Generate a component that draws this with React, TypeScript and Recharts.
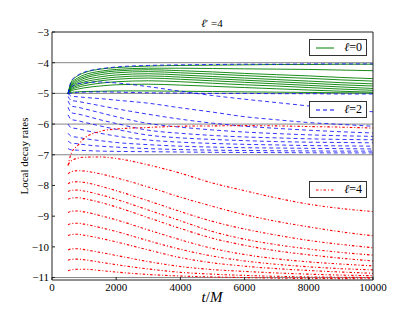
import React from 'react';
import { LineChart, Line, XAxis, YAxis, ReferenceLine } from 'recharts';

const times = [500, 600, 800, 1000, 1500, 2000, 3000, 4000, 5000, 6000, 7000, 8000, 9000, 10000];

const xTicks = [0, 2000, 4000, 6000, 8000, 10000];
const yTicks = [-11, -10, -9, -8, -7, -6, -5, -4, -3];
const refLevels = [-4, -5, -6, -7, -11];

// l = 0 (green, solid)
const green1 = [-5.0, -4.63, -4.43, -4.33, -4.21, -4.16, -4.11, -4.09, -4.08, -4.07, -4.06, -4.06, -4.05, -4.05];
const green2 = [-5.0, -4.68, -4.5, -4.4, -4.28, -4.22, -4.18, -4.18, -4.19, -4.2, -4.21, -4.22, -4.24, -4.26];
const green3 = [-5.0, -4.72, -4.55, -4.46, -4.33, -4.27, -4.23, -4.26, -4.3, -4.35, -4.39, -4.43, -4.48, -4.52];
const green4 = [-5.0, -4.76, -4.6, -4.51, -4.39, -4.33, -4.29, -4.33, -4.37, -4.42, -4.47, -4.51, -4.56, -4.6];
const green5 = [-5.0, -4.8, -4.65, -4.57, -4.46, -4.4, -4.36, -4.4, -4.45, -4.5, -4.55, -4.6, -4.65, -4.69];
const green6 = [-5.0, -4.83, -4.7, -4.63, -4.53, -4.47, -4.43, -4.47, -4.52, -4.57, -4.62, -4.67, -4.72, -4.76];
const green7 = [-5.0, -4.86, -4.75, -4.69, -4.59, -4.54, -4.5, -4.54, -4.59, -4.64, -4.69, -4.74, -4.79, -4.84];
const green8 = [-5.0, -4.89, -4.8, -4.75, -4.67, -4.62, -4.59, -4.62, -4.67, -4.72, -4.76, -4.81, -4.86, -4.9];
const green9 = [-5.0, -4.92, -4.86, -4.82, -4.76, -4.72, -4.7, -4.73, -4.77, -4.81, -4.85, -4.89, -4.93, -4.96];
const green10 = [-5.0, -4.97, -4.95, -4.94, -4.93, -4.92, -4.92, -4.93, -4.94, -4.95, -4.96, -4.97, -4.98, -4.99];

// l = 2 (blue, dashed)
const blue1 = [-5.0, -4.6, -4.41, -4.31, -4.2, -4.14, -4.09, -4.07, -4.06, -4.05, -4.05, -4.04, -4.04, -4.04];
const blue2 = [-5.0, -4.8, -4.69, -4.66, -4.63, -4.66, -4.78, -4.93, -5.07, -5.19, -5.3, -5.41, -5.51, -5.6];
const blue3 = [-5.02, -4.99, -4.97, -4.96, -4.95, -4.96, -4.98, -4.99, -5.0, -5.0, -5.01, -5.01, -5.02, -5.02];
const blue4 = [-5.0, -5.09, -5.11, -5.13, -5.17, -5.22, -5.32, -5.47, -5.61, -5.76, -5.86, -5.95, -6.01, -6.07];
const blue5 = [-5.1, -5.23, -5.26, -5.3, -5.4, -5.5, -5.68, -5.84, -5.97, -6.07, -6.14, -6.2, -6.25, -6.29];
const blue6 = [-5.25, -5.41, -5.45, -5.5, -5.63, -5.76, -5.98, -6.1, -6.19, -6.26, -6.31, -6.35, -6.38, -6.4];
const blue7 = [-5.45, -5.63, -5.67, -5.72, -5.86, -5.98, -6.2, -6.3, -6.37, -6.42, -6.45, -6.48, -6.5, -6.51];
const blue8 = [-5.7, -5.85, -5.89, -5.94, -6.06, -6.17, -6.36, -6.45, -6.5, -6.54, -6.57, -6.59, -6.6, -6.61];
const blue9 = [-6.0, -6.12, -6.15, -6.2, -6.3, -6.39, -6.52, -6.59, -6.63, -6.66, -6.68, -6.7, -6.71, -6.72];
const blue10 = [-6.3, -6.4, -6.43, -6.47, -6.54, -6.6, -6.67, -6.72, -6.75, -6.77, -6.78, -6.79, -6.8, -6.81];
const blue11 = [-6.55, -6.62, -6.64, -6.67, -6.72, -6.75, -6.8, -6.83, -6.85, -6.86, -6.87, -6.875, -6.88, -6.88];
const blue12 = [-6.8, -6.84, -6.85, -6.86, -6.88, -6.89, -6.9, -6.91, -6.92, -6.925, -6.93, -6.935, -6.94, -6.94];

// l = 4 (red, dash-dot)
const red1 = [-7.35, -6.95, -6.7, -6.47, -6.24, -6.16, -6.11, -6.07, -6.06, -6.05, -6.06, -6.08, -6.1, -6.13];
const red2 = [-7.32, -7.2, -7.11, -7.08, -7.07, -7.12, -7.33, -7.6, -7.92, -8.17, -8.41, -8.61, -8.75, -8.85];
const red3 = [-7.62, -7.55, -7.52, -7.53, -7.62, -7.75, -8.05, -8.38, -8.68, -8.95, -9.17, -9.35, -9.51, -9.64];
const red4 = [-7.95, -7.89, -7.88, -7.9, -8.02, -8.17, -8.5, -8.85, -9.17, -9.42, -9.62, -9.79, -9.92, -10.03];
const red5 = [-8.2, -8.16, -8.15, -8.18, -8.3, -8.45, -8.8, -9.15, -9.5, -9.75, -9.93, -10.07, -10.18, -10.27];
const red6 = [-8.45, -8.41, -8.4, -8.43, -8.55, -8.7, -9.05, -9.4, -9.72, -9.95, -10.13, -10.26, -10.37, -10.46];
const red7 = [-8.88, -8.84, -8.83, -8.86, -8.98, -9.12, -9.45, -9.77, -10.05, -10.25, -10.39, -10.49, -10.56, -10.62];
const red8 = [-9.28, -9.24, -9.23, -9.26, -9.37, -9.5, -9.8, -10.08, -10.3, -10.46, -10.57, -10.65, -10.71, -10.75];
const red9 = [-9.63, -9.6, -9.59, -9.62, -9.72, -9.84, -10.1, -10.35, -10.52, -10.63, -10.71, -10.77, -10.82, -10.86];
const red10 = [-10.1, -10.07, -10.06, -10.09, -10.18, -10.28, -10.48, -10.64, -10.74, -10.8, -10.85, -10.89, -10.92, -10.94];
const red11 = [-10.44, -10.41, -10.4, -10.42, -10.5, -10.58, -10.72, -10.83, -10.89, -10.93, -10.96, -10.98, -10.99, -11.0];
const red12 = [-10.78, -10.75, -10.73, -10.73, -10.77, -10.82, -10.9, -10.95, -10.98, -11.0, -11.02, -11.03, -11.035, -11.04];

const greenSeries = [green1, green2, green3, green4, green5, green6, green7, green8, green9, green10];
const blueSeries = [blue1, blue2, blue3, blue4, blue5, blue6, blue7, blue8, blue9, blue10, blue11, blue12];
const redSeries = [red1, red2, red3, red4, red5, red6, red7, red8, red9, red10, red11, red12];

const data = times.map((t, i) => {
  const row: Record<string, number> = { t };
  greenSeries.forEach((s, k) => { row['g' + k] = s[i]; });
  blueSeries.forEach((s, k) => { row['b' + k] = s[i]; });
  redSeries.forEach((s, k) => { row['r' + k] = s[i]; });
  return row;
});

const GREEN = '#008000';
const BLUE = '#0000ff';
const RED = '#ff0000';
const BLUE_DASH = '4 3';
const RED_DASH = '2.5 2 1 2';
const FONT = '"Liberation Serif", "DejaVu Serif", serif';

const fmtY = (v: number) => (v < 0 ? '\u2212' + Math.abs(v) : String(v));

const tickStyle = { fontFamily: FONT, fontSize: 11, fill: '#000' };

function LegendBox({ top, color, dash, label }: { top: number; color: string; dash?: string; label: string }) {
  return (
    <div
      style={{
        position: 'absolute',
        left: 309,
        top,
        width: 58,
        height: 17,
        boxSizing: 'border-box',
        border: '1px solid #333',
        background: '#fff',
        fontFamily: FONT,
        fontSize: 12,
        lineHeight: '15px',
      }}
    >
      <svg width={20} height={15} style={{ position: 'absolute', left: 6, top: 0 }}>
        <line x1={0} y1={8} x2={18} y2={8} stroke={color} strokeWidth={1} strokeDasharray={dash} />
      </svg>
      <span style={{ position: 'absolute', right: 4, top: 0 }}>
        <span style={{ fontStyle: 'italic' }}>ℓ</span>={label}
      </span>
    </div>
  );
}

export default function App() {
  return (
    <div style={{ position: 'absolute', left: 0, top: 0, width: 415, height: 312, background: '#fff' }}>
      <LineChart width={415} height={312} data={data} margin={{ top: 31, right: 41, bottom: 0, left: 0 }}>
        <XAxis
          dataKey="t"
          type="number"
          domain={[0, 10000]}
          ticks={xTicks}
          allowDataOverflow
          height={32}
          tickSize={-3}
          tickMargin={6}
          tick={tickStyle}
          axisLine={{ stroke: '#222' }}
          tickLine={{ stroke: '#222' }}
        />
        <XAxis
          xAxisId="top"
          orientation="top"
          dataKey="t"
          type="number"
          domain={[0, 10000]}
          ticks={xTicks}
          height={1}
          tickSize={-3}
          tick={false}
          axisLine={{ stroke: '#222' }}
          tickLine={{ stroke: '#222' }}
        />
        <YAxis
          type="number"
          domain={[-11.08, -3]}
          ticks={yTicks}
          allowDataOverflow
          width={52}
          tickSize={-3}
          tickMargin={6}
          tick={tickStyle}
          tickFormatter={fmtY}
          axisLine={{ stroke: '#222' }}
          tickLine={{ stroke: '#222' }}
        />
        <YAxis
          yAxisId="right"
          orientation="right"
          type="number"
          domain={[-11.08, -3]}
          ticks={yTicks}
          allowDataOverflow
          width={1}
          tickSize={-3}
          tick={false}
          axisLine={{ stroke: '#222' }}
          tickLine={{ stroke: '#222' }}
        />
        {refLevels.map((y) => (
          <ReferenceLine key={'ref' + y} y={y} stroke="#777" strokeWidth={0.9} />
        ))}
        {greenSeries.map((_, k) => (
          <Line key={'g' + k} dataKey={'g' + k} type="monotone" stroke={GREEN} strokeWidth={0.9} dot={false} isAnimationActive={false} />
        ))}
        {blueSeries.map((_, k) => (
          <Line key={'b' + k} dataKey={'b' + k} type="monotone" stroke={BLUE} strokeWidth={0.8} strokeDasharray={BLUE_DASH} dot={false} isAnimationActive={false} />
        ))}
        {redSeries.map((_, k) => (
          <Line key={'r' + k} dataKey={'r' + k} type="monotone" stroke={RED} strokeWidth={1.1} strokeDasharray={RED_DASH} dot={false} isAnimationActive={false} />
        ))}
        <Line xAxisId="top" yAxisId="right" dataKey="g0" stroke="none" dot={false} activeDot={false} legendType="none" isAnimationActive={false} />
      </LineChart>

      <div style={{ position: 'absolute', left: 152, width: 120, top: 17, textAlign: 'center', fontFamily: FONT, fontSize: 11, lineHeight: '13px' }}>
        <span style={{ fontStyle: 'italic' }}>ℓ</span>′ =4
      </div>
      <div
        style={{
          position: 'absolute',
          left: 24,
          top: 156,
          transform: 'translate(-50%, -50%) rotate(-90deg)',
          whiteSpace: 'nowrap',
          fontFamily: FONT,
          fontSize: 11,
          lineHeight: '13px',
        }}
      >
        Local decay rates
      </div>
      <div style={{ position: 'absolute', left: 152, width: 120, top: 289, textAlign: 'center', fontFamily: FONT, fontSize: 15, lineHeight: '17px' }}>
        <span style={{ fontStyle: 'italic' }}>t</span>/<span style={{ fontStyle: 'italic' }}>M</span>
      </div>

      <LegendBox top={39} color={GREEN} label="0" />
      <LegendBox top={101} color={BLUE} dash={BLUE_DASH} label="2" />
      <LegendBox top={181} color={RED} dash={RED_DASH} label="4" />
    </div>
  );
}
